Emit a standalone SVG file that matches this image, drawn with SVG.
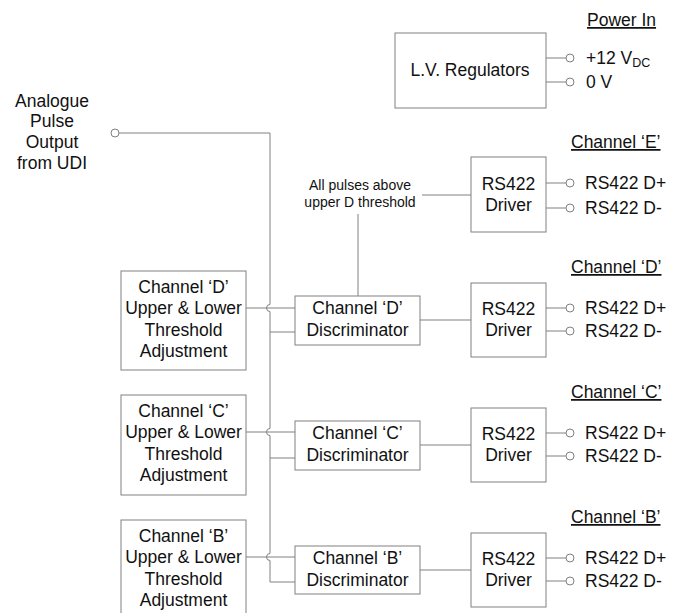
<svg xmlns="http://www.w3.org/2000/svg" width="679" height="613" viewBox="0 0 679 613">
<style>
text{font-family:"Liberation Sans",Arial,sans-serif;font-size:17.5px;fill:#111}
.c{text-anchor:middle}
.n{font-size:14px}
.u{text-decoration:underline}
.b{fill:#fff;stroke:#808080;stroke-width:1}
.w{fill:none;stroke:#808080;stroke-width:1}
circle{fill:#fff;stroke:#808080;stroke-width:1}
</style>
<rect width="679" height="613" fill="#fff"/>
<g id="connectors">
<path class="w" d="M119,133 H270 V304.5 A3.5,3.5 0 0 0 270,311.5 V428.5 A3.5,3.5 0 0 0 270,435.5 V553.5 A3.5,3.5 0 0 0 270,560.5 V582 H295"/>
<path class="w" d="M270,332 H295 M270,458 H295"/>
<path class="w" d="M246,308 H295 M246,432 H295 M246,557 H295"/>
<path class="w" d="M420,320 H471 M420,445 H471 M420,570 H471"/>
<path class="w" d="M422,195 H471 M358,214 V296"/>
<path class="w" d="M546,58 H566 M546,82 H566"/>
<path class="w" d="M546,183 H566 M546,208 H566 M546,308 H566 M546,331 H566 M546,433 H566 M546,456 H566 M546,558 H566 M546,581 H566"/>
</g>
<g id="power">
<text class="u" x="587" y="26">Power In</text>
<circle cx="570" cy="58" r="4"/><circle cx="570" cy="82" r="4"/>
<text x="586" y="64">+12 V<tspan font-size="12.5" dy="3">DC</tspan></text>
<text x="586" y="88">0 V</text>
</g>
<g id="lv-regulators"><rect class="b" x="395" y="33" width="151" height="75"/><text class="c" x="470" y="76">L.V. Regulators</text></g>
<g id="input">
<text class="c" x="52" y="107">Analogue</text><text class="c" x="52" y="127">Pulse</text><text class="c" x="52" y="148">Output</text><text class="c" x="52" y="169">from UDI</text>
<circle cx="115" cy="133" r="4"/>
</g>
<g id="note"><text class="c n" x="360" y="190">All pulses above</text><text class="c n" x="360" y="207">upper D threshold</text></g>
<g id="threshold-d"><rect class="b" x="121" y="271" width="125" height="99"/><text class="c" x="183.5" y="293">Channel ‘D’</text><text class="c" x="183.5" y="314">Upper &amp; Lower</text><text class="c" x="183.5" y="336">Threshold</text><text class="c" x="183.5" y="357">Adjustment</text></g>
<g id="threshold-c"><rect class="b" x="121" y="395" width="125" height="100"/><text class="c" x="183.5" y="417">Channel ‘C’</text><text class="c" x="183.5" y="438">Upper &amp; Lower</text><text class="c" x="183.5" y="460">Threshold</text><text class="c" x="183.5" y="481">Adjustment</text></g>
<g id="threshold-b"><rect class="b" x="121" y="520" width="125" height="100"/><text class="c" x="183.5" y="542">Channel ‘B’</text><text class="c" x="183.5" y="563">Upper &amp; Lower</text><text class="c" x="183.5" y="585">Threshold</text><text class="c" x="183.5" y="606">Adjustment</text></g>
<g id="disc-d"><rect class="b" x="295" y="296" width="125" height="49"/><text class="c" x="357.5" y="314">Channel ‘D’</text><text class="c" x="357.5" y="336">Discriminator</text></g>
<g id="disc-c"><rect class="b" x="295" y="421" width="125" height="49"/><text class="c" x="357.5" y="439">Channel ‘C’</text><text class="c" x="357.5" y="461">Discriminator</text></g>
<g id="disc-b"><rect class="b" x="295" y="546" width="125" height="48"/><text class="c" x="357.5" y="564">Channel ‘B’</text><text class="c" x="357.5" y="586">Discriminator</text></g>
<g id="driver-e"><text class="u" x="571" y="148">Channel ‘E’</text><rect class="b" x="471" y="157" width="75" height="75"/><text class="c" x="508.5" y="190">RS422</text><text class="c" x="508.5" y="211">Driver</text>
<circle cx="570" cy="183" r="4"/><circle cx="570" cy="208" r="4"/><text x="585" y="189">RS422 D+</text><text x="585" y="214">RS422 D-</text></g>
<g id="driver-d"><text class="u" x="571" y="273">Channel ‘D’</text><rect class="b" x="471" y="283" width="75" height="74"/><text class="c" x="508.5" y="315">RS422</text><text class="c" x="508.5" y="336">Driver</text>
<circle cx="570" cy="308" r="4"/><circle cx="570" cy="331" r="4"/><text x="585" y="314">RS422 D+</text><text x="585" y="337">RS422 D-</text></g>
<g id="driver-c"><text class="u" x="571" y="398">Channel ‘C’</text><rect class="b" x="471" y="408" width="75" height="74"/><text class="c" x="508.5" y="440">RS422</text><text class="c" x="508.5" y="461">Driver</text>
<circle cx="570" cy="433" r="4"/><circle cx="570" cy="456" r="4"/><text x="585" y="439">RS422 D+</text><text x="585" y="462">RS422 D-</text></g>
<g id="driver-b"><text class="u" x="571" y="523">Channel ‘B’</text><rect class="b" x="471" y="533" width="75" height="74"/><text class="c" x="508.5" y="565">RS422</text><text class="c" x="508.5" y="586">Driver</text>
<circle cx="570" cy="558" r="4"/><circle cx="570" cy="581" r="4"/><text x="585" y="564">RS422 D+</text><text x="585" y="587">RS422 D-</text></g>
</svg>
